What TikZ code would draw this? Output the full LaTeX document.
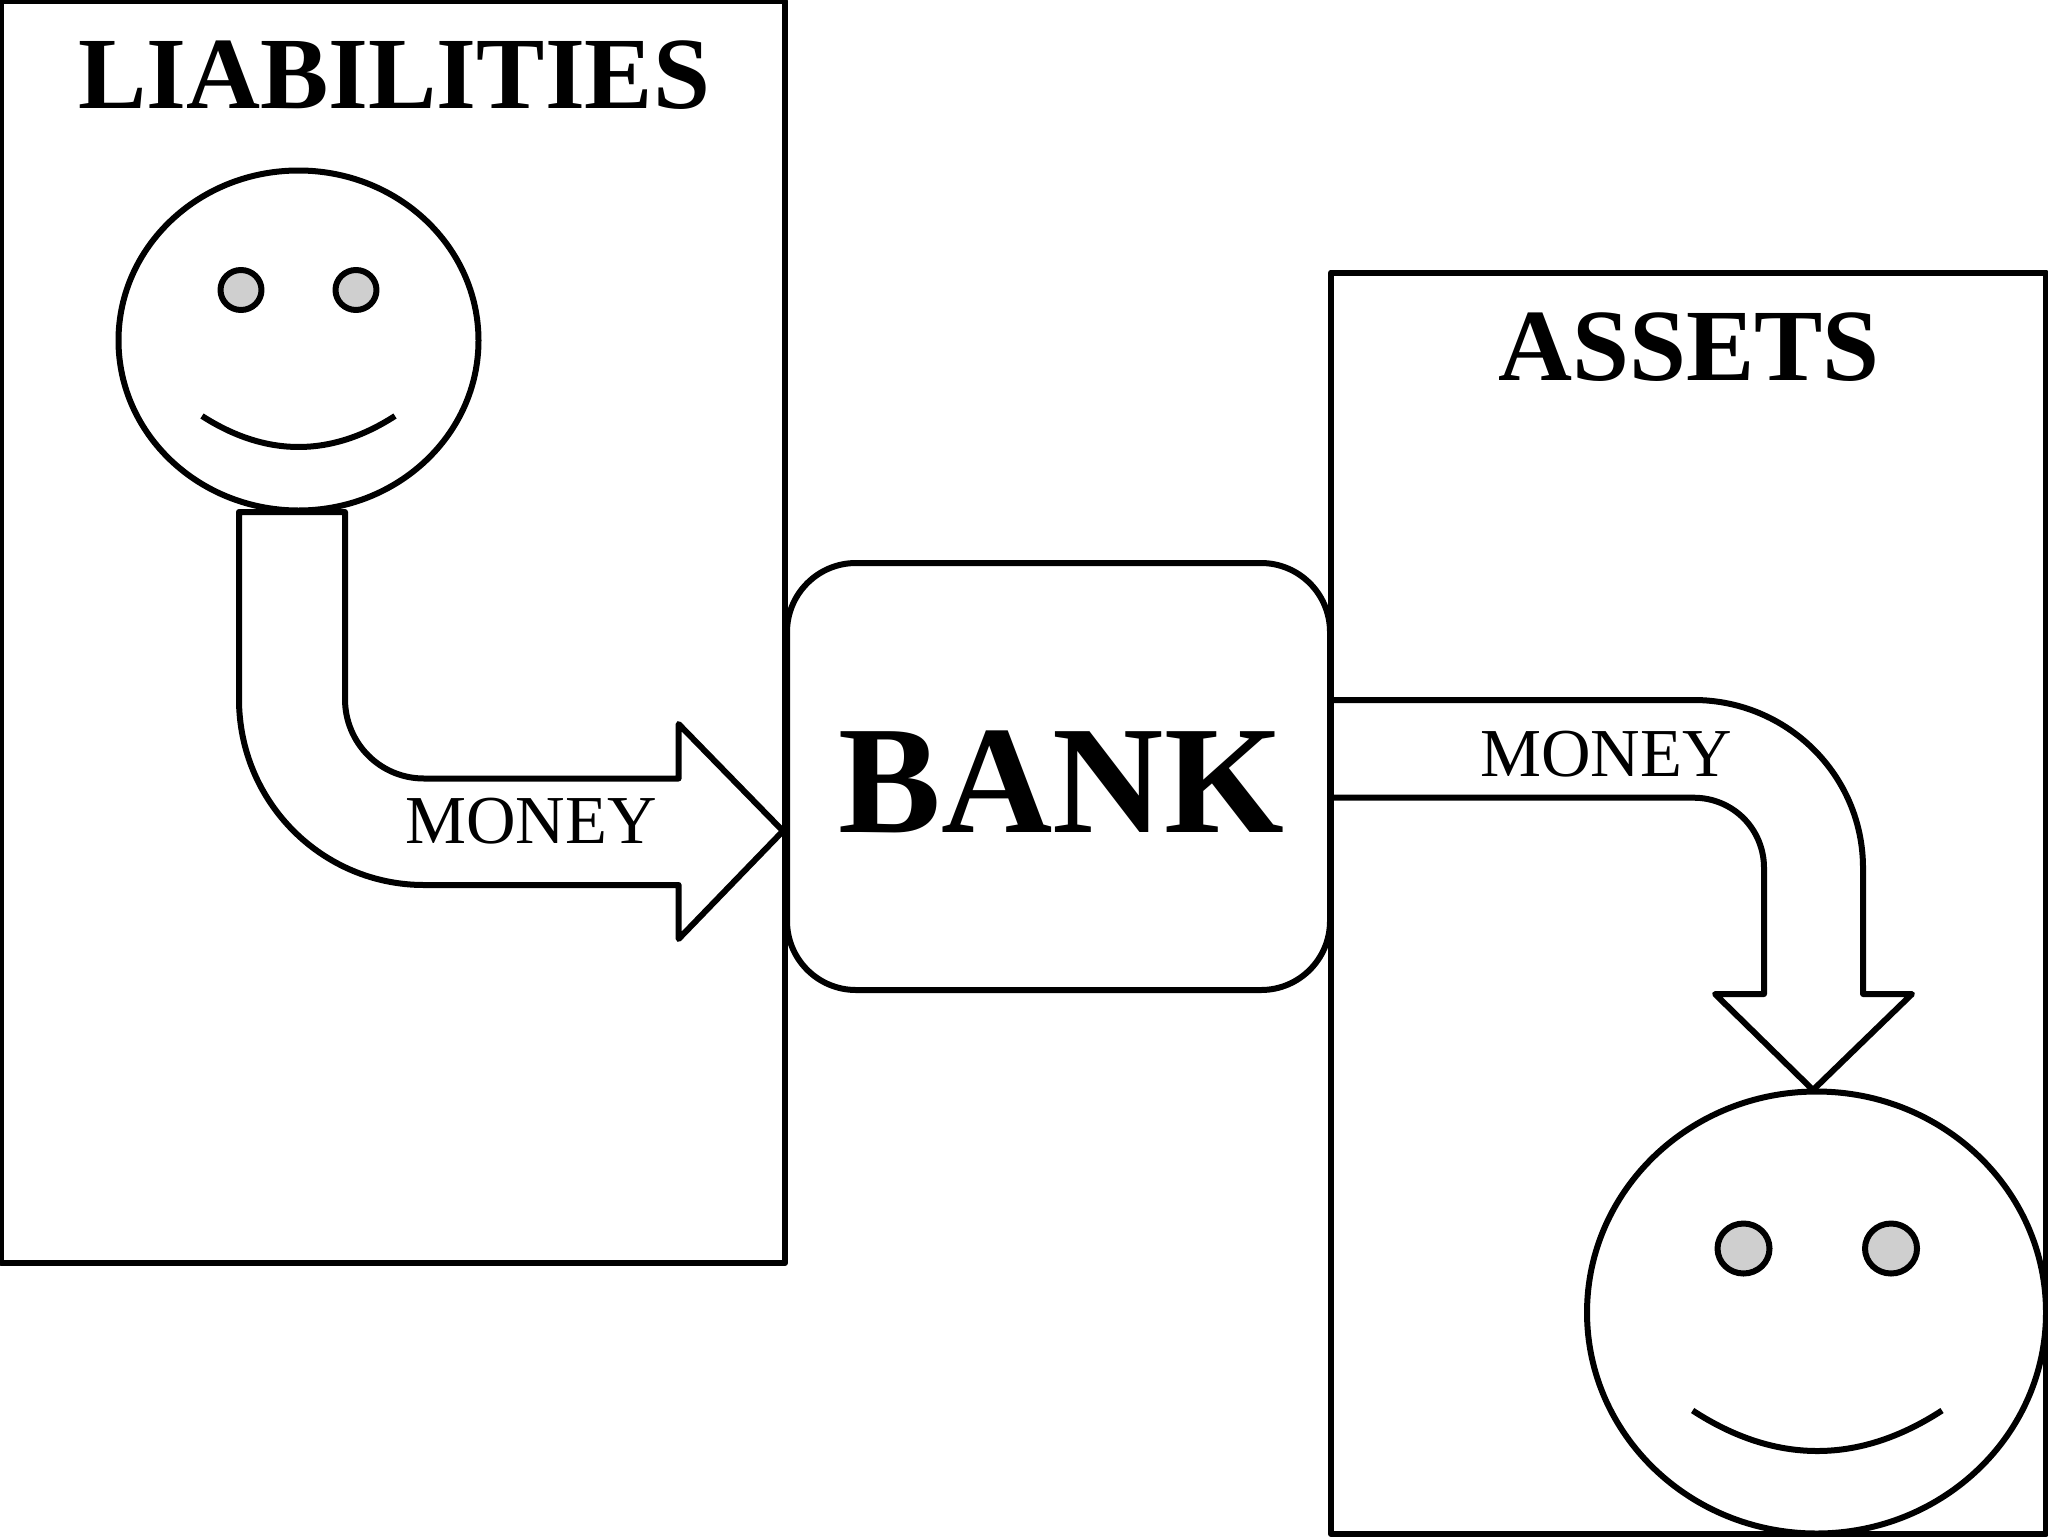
\documentclass[tikz,border=0pt]{standalone}
\usepackage{fontspec}
\setmainfont{Liberation Serif}
\tikzset{
  outline/.style={draw=black,line width=3pt,line join=round},
  eye/.style={outline,fill=black!19},
  bigtitle/.style={anchor=base west,inner sep=0pt,font=\fontsize{51.2pt}{60pt}\selectfont\bfseries},
  banktitle/.style={anchor=base west,inner sep=0pt,font=\fontsize{77pt}{90pt}\selectfont\bfseries},
  moneylabel/.style={anchor=base west,inner sep=0pt,font=\fontsize{34.3pt}{40pt}\selectfont},
}
\begin{document}
\begin{tikzpicture}[x=0.5pt,y=-0.5pt]
\useasboundingbox (0,0) rectangle (2048,1536);
% boxes
\draw[outline] (1,1) rectangle (785,1263);
\draw[outline] (1331,272.5) rectangle (2046,1534);
% bank
\draw[outline,fill=white,rounded corners=34.5pt] (787,563) rectangle (1330,990);
% left face
\draw[outline] (298.5,340.5) ellipse [x radius=180,y radius=170];
\draw[eye] (241,290) ellipse [x radius=20.5,y radius=20];
\draw[eye] (356,290) ellipse [x radius=20.5,y radius=20];
\draw[outline] (202,416) .. controls (266.3,457.3) and (331,457.3) .. (395,416);
% left arrow
\draw[outline]
  (239,512) -- (345,512) -- (345,699)
  .. controls (345,743) and (380,778.5) .. (424,778.5)
  -- (678.6,778.5) -- (678.6,724) -- (783,831) -- (678.6,939) -- (678.6,885) -- (424,885)
  .. controls (322,885) and (239,802) .. (239,699) -- cycle;
% right arrow
\draw[outline]
  (1331,700) -- (1693.6,700)
  .. controls (1787,700) and (1863,775) .. (1863,868)
  -- (1863,994) -- (1912,994) -- (1813,1090) -- (1715,994) -- (1764,994) -- (1764,868)
  .. controls (1764,829) and (1733,797.7) .. (1693.6,797.7) -- (1331,797.7);
% right face
\draw[outline] (1816.5,1312.5) ellipse [x radius=229.5,y radius=221];
\draw[eye] (1743.5,1248.5) ellipse [x radius=26,y radius=25];
\draw[eye] (1891,1248.5) ellipse [x radius=26,y radius=25];
\draw[outline] (1692.6,1410.5) .. controls (1775.5,1464.5) and (1859,1464.5) .. (1942,1410.5);
% text
\node[bigtitle] (liab) at (78,109) {LIABILITIES};
\node[bigtitle] (assets) at (1498,380) {ASSETS};
\node[banktitle] (bank) at (838.5,832) {BANK};
\node[moneylabel] (m1) at (405,843.6) {MONEY};
\node[moneylabel] (m2) at (1480,776) {MONEY};
\end{tikzpicture}
\end{document}
